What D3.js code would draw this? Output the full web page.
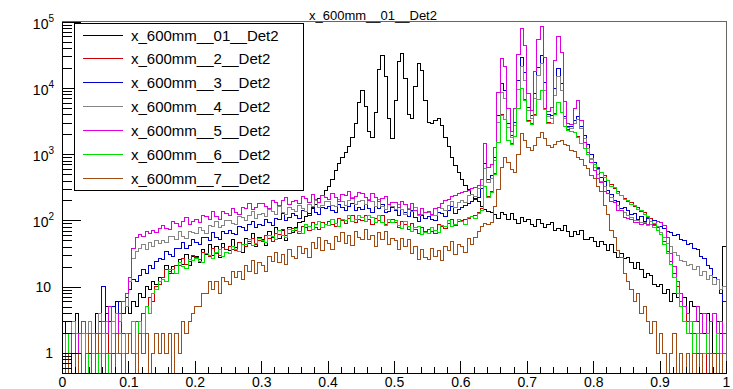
<!DOCTYPE html>
<html><head><meta charset="utf-8">
<script src="https://cdn.jsdelivr.net/npm/d3@7"></script>
<style>
body{margin:0;background:#fff}
svg{display:block;font-family:"Liberation Sans",Arial,Helvetica,sans-serif}
</style></head><body>
<svg id="c" width="733" height="389"></svg>
<script>
const title = "x_600mm__01__Det2";
const seriesNames = ["x_600mm__01__Det2","x_600mm__2__Det2","x_600mm__3__Det2","x_600mm__4__Det2","x_600mm__5__Det2","x_600mm__6__Det2","x_600mm__7__Det2"];
const seriesColors = ["#000000","#cc0000","#0000cc","#858585","#dd00dd","#00e000","#a04a14"];
const xTicks = [0,0.1,0.2,0.3,0.4,0.5,0.6,0.7,0.8,0.9,1];
const xTickLabels = ["0","0.1","0.2","0.3","0.4","0.5","0.6","0.7","0.8","0.9","1"];
const yTicks = [1,10,100,1000,10000,100000];
const yTickExp = [0,1,2,3,4,5];
const xRange = [0,1];
const binWidth = 0.005;

const h1 = [
3,2,0,3,4,2,3,1,3,2, 4,3,2,5,3,1,6,3,4,5,
4,6,5,8,7,10,9,12,11,14, 14,21,16,20,16,26,22,31,21,29,
29,23,37,31,44,30,40,28,45,37, 35,51,39,46,33,54,45,64,41,56,
52,42,67,55,77,53,70,50,79,66, 78,92,96,115,126,152,175,214,238,282,
330,420,560,720,900,1050,1300,1800,2900,6000, 9000,5200,2200,1800,4200,19000,31000,15000,3500,1700,
6500,25000,33000,14000,4000,3500,10500,23000,18000,6500, 3000,2900,3200,3400,2700,1800,1300,900,680,520,
420,340,290,250,215,190,165,148,138,130, 125,107,131,121,102,128,102,89,109,98,
103,88,80,102,90,77,88,94,71,76, 71,83,69,58,69,62,70,51,51,55,
48,40,48,44,35,43,33,28,32,27, 28,23,19,23,18,14,16,15,11,10,
11,8,9,6,8,7,5,7,4,6, 5,3,4,2,4,3,1,3,2,40];

const h2 = [
0,1,1,2,0,1,2,0,1,1, 1,2,0,1,3,1,2,3,2,1,
2,1,3,2,4,5,7,6,10,11, 14,18,17,16,21,21,27,22,24,30,
28,26,33,32,29,38,32,30,39,37, 40,36,35,46,44,40,48,54,44,49,
48,60,54,48,63,61,74,59,63,75, 70,63,81,79,70,93,78,72,93,88,
96,86,82,108,100,90,107,118,93,104, 99,120,102,88,108,101,117,88,92,103,
92,78,96,87,73,90,72,63,77,68, 73,67,64,87,82,75,90,104,83,95,
99,103,108,114,120,130,150,330,230,270, 510,1520,3900,3300,1600,1430,1860,4900,9800,6600,
3200,2880,3900,6700,9100,4800,2960,2880,4050,6000, 4300,2620,2320,2210,2110,1820,1460,1210,990,830,
700,620,520,470,395,350,300,275,236,215, 196,186,163,158,138,131,111,106,86,78,
65,48,34,24,16,10,6,5,3,2, 2,1,1,0,2,1,1,0,1,2];

const h3 = [
2,1,2,0,2,1,3,2,1,2, 2,3,10,4,3,5,2,6,4,7,
9,13,12,15,18,16,21,19,24,27, 26,34,31,29,38,38,47,38,42,51,
47,43,56,55,50,66,56,52,67,64, 70,64,62,82,78,71,86,98,77,88,
83,104,93,84,108,105,127,101,109,129, 120,108,140,135,120,159,133,123,159,150,
161,142,132,173,157,140,164,181,141,156, 147,177,151,131,161,150,175,133,138,156,
140,120,146,134,113,140,111,97,118,106, 113,103,100,134,126,116,141,161,129,147,
158,168,180,192,205,225,300,720,420,480, 880,3890,11500,9000,2860,1940,3030,12700,28800,17100,
5060,3850,8300,20600,31100,12000,4000,3840,9700,19900, 11800,3720,2600,2580,3190,3700,2600,1900,1400,1000,
760,600,440,385,280,250,200,196,152,155, 140,121,128,104,115,97,108,86,99,82,
80,75,68,66,59,61,52,50,44,45, 38,36,29,27,21,19,14,13,8,6];

const h4 = [
1,2,1,3,2,0,2,1,3,2, 2,4,1,3,5,2,4,3,6,5,
12,27,34,38,44,37,46,41,49,45, 50,46,58,57,51,68,57,53,69,66,
63,78,71,64,83,80,98,77,84,99, 100,90,87,116,109,99,119,135,107,122,
126,113,144,138,122,160,133,123,157,148, 138,171,151,135,172,165,198,156,167,195,
193,171,160,210,192,171,202,223,174,194, 200,172,210,194,164,206,164,145,177,160,
145,172,146,124,151,138,158,118,121,134, 131,120,117,159,151,140,170,196,158,184,
198,185,240,246,232,300,340,600,380,430, 800,3000,8500,6800,2500,1800,2700,9500,21000,12800,
4600,3500,6800,15500,23000,9200,3700,3500,7600,14800, 9000,3400,2500,2450,2900,3300,2400,1700,1200,850,
640,490,390,320,255,220,185,168,140,132, 118,112,99,100,92,94,84,88,78,80,
66,56,45,40,33,30,25,24,21,22, 18,20,15,17,13,15,11,13,9,10];

const h5 = [
1,0,2,1,0,2,3,1,2,0, 2,1,3,2,5,3,2,4,6,8,
14,38,55,62,58,67,63,71,66,75, 85,76,73,97,90,82,98,109,87,98,
102,92,119,115,103,136,113,105,135,128, 120,150,134,121,155,150,182,144,156,183,
180,162,152,202,186,167,198,222,174,196, 200,178,226,215,189,246,204,187,238,222,
206,253,221,196,246,234,278,217,230,264, 257,221,199,253,222,192,217,232,174,186,
187,159,193,176,147,182,143,125,150,133, 135,124,150,155,180,200,208,232,236,255,
262,278,286,305,312,340,420,1450,620,700, 1250,8600,27500,20800,4840,2200,4800,32000,77600,43300,
8200,4500,17700,53800,84800,28700,4400,5000,25800,60500, 33600,6200,2900,2800,4800,6500,3200,1500,1050,750,
560,430,370,275,255,195,185,140,140,112, 108,102,92,92,88,90,86,96,84,98,
92,85,55,32,20,12,8,5,4,3, 3,5,2,4,1,3,4,2,3,1];

const h6 = [
1,0,2,1,0,1,0,2,0,1, 0,1,2,0,1,3,1,2,1,2,
2,3,1,3,2,5,4,8,9,12, 13,12,18,18,16,23,20,19,26,25,
27,24,23,32,30,27,33,37,29,33, 32,41,37,34,43,43,52,42,45,54,
50,46,59,58,52,70,59,56,72,70, 75,68,64,86,80,72,86,97,77,86,
83,103,91,82,104,100,120,95,102,119, 110,95,118,109,93,117,94,84,104,94,
100,85,76,95,82,69,78,82,61,66, 63,78,71,65,84,82,100,80,87,103,
96,88,112,114,106,128,140,320,220,260, 500,1500,3880,3280,1590,1420,1840,4860,9740,6540,
3160,2850,3870,6690,9100,4750,2940,2860,4020,5970, 4300,2600,2300,2200,2100,1800,1450,1200,980,820,
710,590,530,440,400,330,310,258,240,205, 200,176,168,148,143,122,116,96,91,70,
62,44,32,22,14,8,5,3,2,3, 1,2,0,1,2,1,0,2,1,0];

const h7 = [
1,0,1,2,0,1,0,1,2,0, 1,2,0,1,1,0,2,1,0,1,
2,1,0,2,1,2,0,1,2,1, 2,1,2,0,2,1,3,2,3,4,
5,5,8,8,12,9,12,8,14,12, 11,17,14,17,13,21,17,25,16,23,
21,17,29,24,33,23,31,22,36,29, 27,40,32,38,28,46,38,55,35,49,
45,37,58,48,65,45,59,42,67,55, 51,72,52,60,41,65,52,69,43,54,
50,37,54,41,51,32,40,26,37,28, 26,38,29,35,25,41,35,48,31,43,
40,33,53,44,55,68,80,90,88,92, 160,290,620,900,760,580,520,1000,2050,1600,
1250,1150,1350,1800,2100,1700,1350,1260,1380,1550, 1600,1420,1330,1150,1080,900,820,670,610,470,
430,330,270,170,125,70,56,35,28,16, 12,9,6,8,4,5,3,2,3,1,
2,1,0,1,2,0,1,0,1,0, 1,0,1,0,0,1,0,1,0,1];

const series = [h1,h2,h3,h4,h5,h6,h7];

const svg = d3.select("#c");
const L = 62, R = 726, T = 21, B = 373;
const x = d3.scaleLinear().domain(xRange).range([L, R]);
const y = d3.scaleLog().domain([0.5, 1.02e5]).range([B, T]);

svg.append("clipPath").attr("id","clip").append("rect")
  .attr("x", L).attr("y", T).attr("width", R-L).attr("height", B-T);

const line = d3.line()
  .x(d => x(d[0]))
  .y(d => y(Math.max(d[1], 0.3)))
  .curve(d3.curveStepAfter);

const plot = svg.append("g").attr("clip-path","url(#clip)");
series.forEach((vals, k) => {
  const pts = vals.map((v,i) => [xRange[0] + i*binWidth, v]);
  pts.push([xRange[1], vals[vals.length-1]]);
  plot.append("path")
    .attr("d", line(pts))
    .attr("fill","none")
    .attr("stroke", seriesColors[k])
    .attr("stroke-width", 1)
    .attr("shape-rendering","crispEdges");
});

// frame
svg.append("rect").attr("x",L+0.5).attr("y",T+0.5).attr("width",R-L).attr("height",B-T)
  .attr("fill","none").attr("stroke","#666").attr("stroke-width",1);

// y axis
const yMinor = [];
[0.1,1,10,100,1000,10000].forEach(d => { for (let m=2;m<=9;m++){ const v=d*m; if (v>0.5 && v<1.02e5) yMinor.push(v);} });
const gy = svg.append("g").attr("transform",`translate(${L},0)`)
  .call(d3.axisLeft(y).tickValues(yTicks).tickSize(-19).tickSizeOuter(0).tickFormat(""));
svg.append("g").attr("transform",`translate(${L},0)`)
  .call(d3.axisLeft(y).tickValues(yMinor).tickSize(-10).tickSizeOuter(0).tickFormat(""))
  .select(".domain").remove();
gy.select(".domain").attr("stroke","#000").attr("shape-rendering","crispEdges");

yTicks.forEach((v,i) => {
  const e = yTickExp[i];
  const t = svg.append("text").attr("font-size",14).attr("fill","#000")
    .attr("text-anchor","end");
  if (e === 0) { t.attr("x",53).attr("y",y(v)+5).text("1"); }
  else if (e === 1) { t.attr("x",51).attr("y",y(v)+5).text("10"); }
  else {
    t.attr("x",54).attr("y",y(v)+7);
    t.append("tspan").text("10");
    t.append("tspan").attr("font-size",10).attr("dy",-7).text(String(e));
  }
});

// x axis
const xMinor = d3.range(0,1.0001,0.02).filter(v => Math.abs(v*10 - Math.round(v*10)) > 1e-6);
const gx = svg.append("g").attr("transform",`translate(0,${B})`)
  .call(d3.axisBottom(x).tickValues(xTicks).tickSize(-12).tickSizeOuter(0).tickPadding(4)
    .tickFormat((d,i) => xTickLabels[i]));
svg.append("g").attr("transform",`translate(0,${B})`)
  .call(d3.axisBottom(x).tickValues(xMinor).tickSize(-6).tickSizeOuter(0).tickFormat(""))
  .select(".domain").remove();
gx.selectAll("text").attr("font-size",14).attr("font-family","Liberation Sans, Arial, sans-serif").attr("fill","#000");
gx.select(".domain").attr("stroke","#000").attr("shape-rendering","crispEdges");
svg.selectAll(".tick line").attr("stroke","#000").attr("shape-rendering","crispEdges");

// title
svg.append("text").attr("x",373).attr("y",20).attr("text-anchor","middle")
  .attr("font-size",13).attr("fill","#000").text(title);

// legend
const lg = svg.append("g");
lg.append("rect").attr("x",74.5).attr("y",23.5).attr("width",229).attr("height",167)
  .attr("fill","#fff").attr("stroke","#000").attr("stroke-width",1);
seriesNames.forEach((n,i) => {
  const yy = Math.round(34.5 + i*23.9) + 0.5;
  lg.append("line").attr("x1",83).attr("x2",123).attr("y1",yy).attr("y2",yy)
    .attr("stroke",seriesColors[i]).attr("stroke-width",1);
  lg.append("rect").attr("x",102).attr("y",yy-0.5).attr("width",1).attr("height",1)
    .attr("fill",seriesColors[i]);
  lg.append("text").attr("x",131).attr("y",yy+5.5).attr("font-size",15).attr("fill","#000").text(n);
});
</script>
</body></html>
